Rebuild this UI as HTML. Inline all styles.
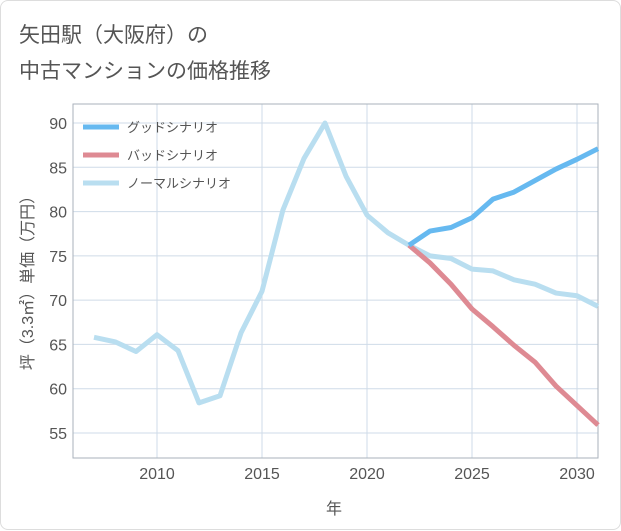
<!DOCTYPE html>
<html><head><meta charset="utf-8"><style>
body{margin:0;background:#fff;font-family:"Liberation Sans","Noto Sans CJK JP",sans-serif}
#card{position:absolute;left:0;top:0;width:619px;height:528px;border:1px solid #ddd;border-radius:8px;background:#fff}
.t{position:absolute;left:18px;font-size:21px;color:#555}
</style></head><body>
<div id="card">
<div class="t" style="top:18px">矢田駅（大阪府）の</div>
<div class="t" style="top:54px">中古マンションの価格推移</div>
<svg id="s" width="621" height="530" style="position:absolute;left:0;top:0"></svg>
</div>
<script>
const years=[2007,2008,2009,2010,2011,2012,2013,2014,2015,2016,2017,2018,2019,2020,2021,2022,2023,2024,2025,2026,2027,2028,2029,2030,2031];
const normal=[65.8,65.3,64.2,66.1,64.3,58.4,59.2,66.3,71,80.2,86,90,84,79.6,77.6,76.2,75,74.7,73.5,73.3,72.3,71.8,70.8,70.5,69.3];
const goodYears=[2022,2023,2024,2025,2026,2027,2028,2029,2030,2031];
const good=[76.2,77.8,78.2,79.3,81.4,82.2,83.5,84.8,85.9,87.1];
const bad=[76.2,74.2,71.8,69,67,64.9,63,60.3,58.1,55.9];
const xTicks=[2010,2015,2020,2025,2030];
const yTicks=[55,60,65,70,75,80,85,90];
const X=y=>156+(y-2010)*21, Y=v=>122+(90-v)*310/35;
const s=document.getElementById('s');const NS='http://www.w3.org/2000/svg';
function el(t,a,txt){const e=document.createElementNS(NS,t);for(const k in a)e.setAttribute(k,a[k]);if(txt!==undefined)e.textContent=txt;s.appendChild(e);return e;}
xTicks.forEach(t=>{const g=el('line',{x1:X(t),x2:X(t),y1:103,y2:457,stroke:'#cfdbe8'});

});
yTicks.forEach(t=>{const g=el('line',{x1:72,x2:597,y1:Y(t),y2:Y(t),stroke:'#cfdbe8'});

});
const pa=el('rect',{x:72,y:103,width:525,height:354,fill:'none',stroke:'#aab2bb'});


xTicks.forEach(t=>{const e=el('text',{x:X(t),y:478,'text-anchor':'middle','font-size':16,fill:'#555'},t);

});
yTicks.forEach(t=>{const e=el('text',{x:66,y:Y(t)+6,'text-anchor':'end','font-size':16,fill:'#555'},t);

});
const xt=el('text',{x:333,y:513,'text-anchor':'middle','font-size':16,fill:'#555'},'年');


const yt=el('text',{x:0,y:0,transform:'translate(32,278) rotate(-90)','text-anchor':'middle','font-size':16,fill:'#555'},'坪（3.3㎡）単価（万円）');


function line(xs,vs,c,n){const p=el('polyline',{points:xs.map((x,i)=>X(x)+','+Y(vs[i])).join(' '),fill:'none',stroke:c,'stroke-width':5,'stroke-linejoin':'round'});

}
line(years,normal,'#b9def0','normal-scenario-line');
line(goodYears,bad,'#de8a93','bad-scenario-line');
line(goodYears,good,'#66b9f0','good-scenario-line');
[['グッドシナリオ','#66b9f0',126],['バッドシナリオ','#de8a93',154],['ノーマルシナリオ','#b9def0',182]].forEach(l=>{
const a=el('line',{x1:82,x2:118,y1:l[2],y2:l[2],stroke:l[1],'stroke-width':5});


const b=el('text',{x:126,y:l[2]+5,'font-size':13,fill:'#555'},l[0]);

});
</script>
</body></html>
